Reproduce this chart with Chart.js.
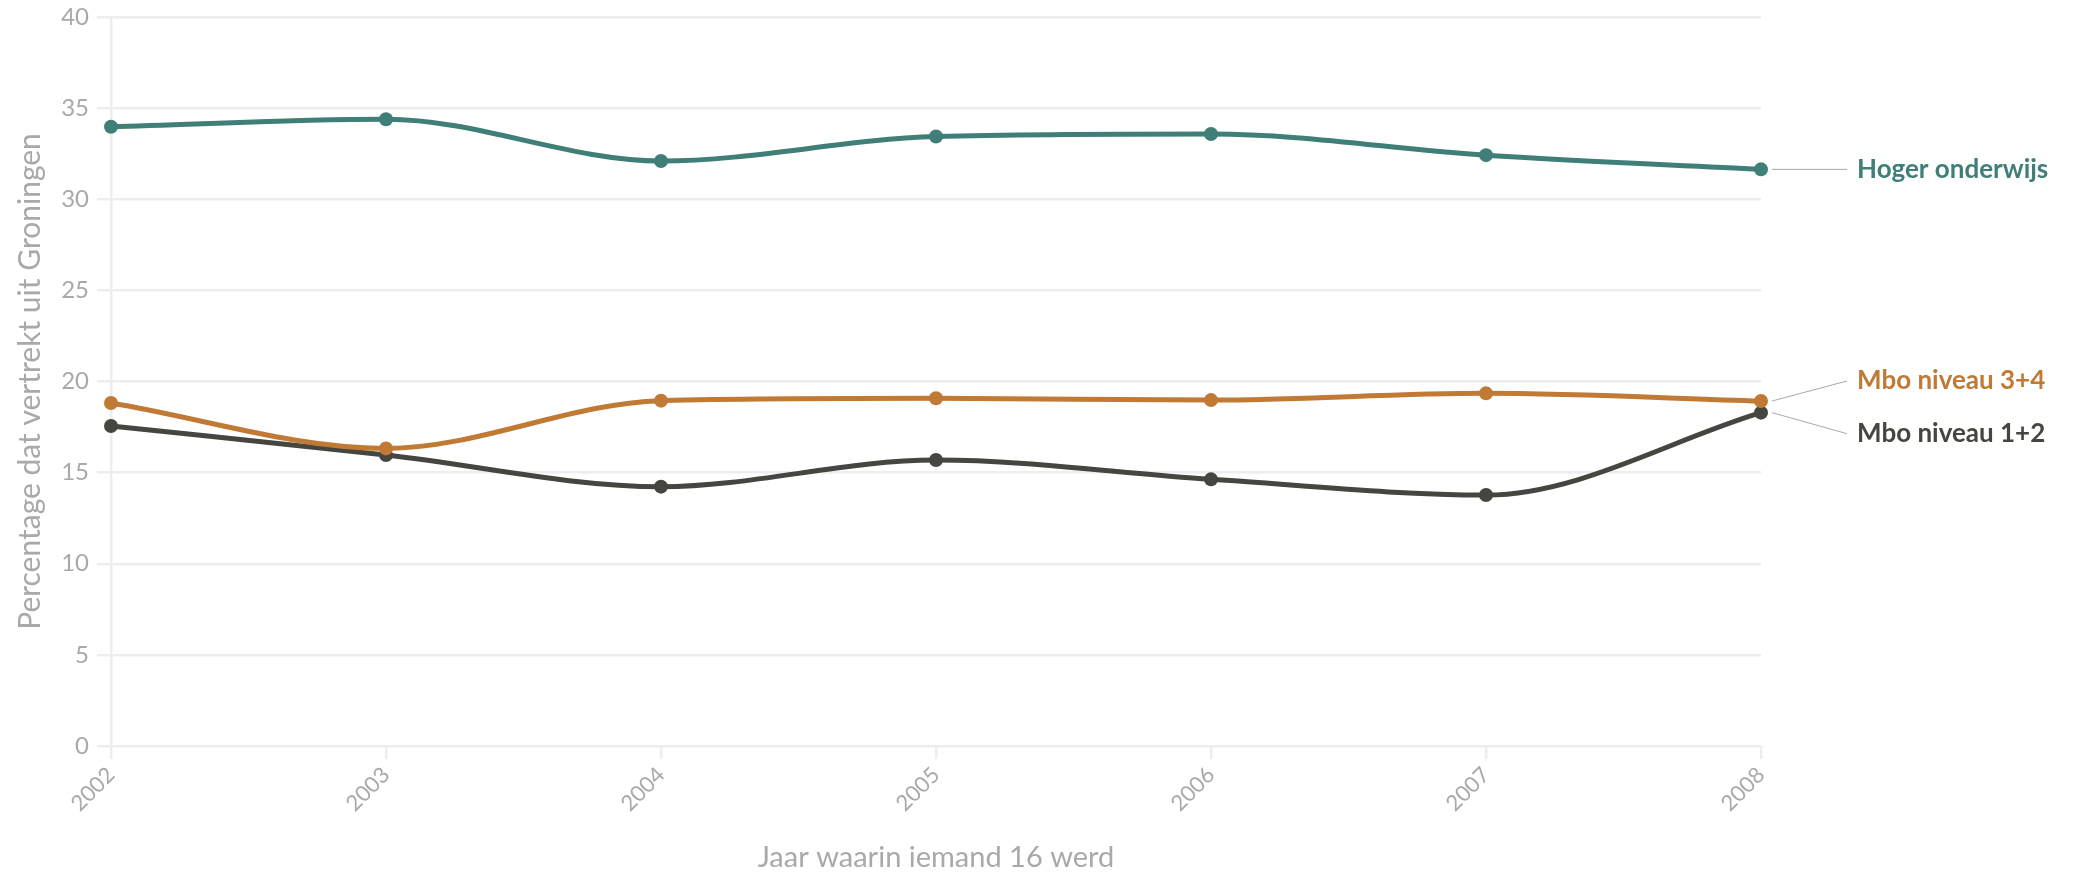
<!DOCTYPE html>
<html>
<head>
<meta charset="utf-8">
<script src="https://cdn.jsdelivr.net/npm/chart.js@4"></script>
<style>
  html, body { margin: 0; padding: 0; background: #fff; }
  #wrap { width: 2080px; height: 877px; position: relative; }
</style>
</head>
<body>
<div id="wrap"><canvas id="vertrekChart"></canvas></div>
<script>
const jaren = ["2002", "2003", "2004", "2005", "2006", "2007", "2008"];
const hogerOnderwijs = [33.98, 34.39, 32.10, 33.44, 33.58, 32.42, 31.64];
const mbo34 = [18.82, 16.33, 18.95, 19.08, 18.98, 19.35, 18.93];
const mbo12 = [17.56, 15.97, 14.23, 15.69, 14.63, 13.77, 18.29];
const yTicks = [0, 5, 10, 15, 20, 25, 30, 35, 40];

const kleuren = {
    hoger: "#3f7f78",
    mbo34: "#c17a35",
    mbo12: "#45463f"
};
const grijs = "#a9a9a9";
const rasterKleur = "#ededed";
const font = "Lato, 'Open Sans', sans-serif";

// Labels at the end of each line, with a thin connector to the last point
const eindLabels = {
    id: "eindLabels",
    afterDatasetsDraw(chart) {
        const ctx = chart.ctx;
        const labels = [
            { idx: 0, text: "Hoger onderwijs", shift: 0 },
            { idx: 1, text: "Mbo niveau 3+4", shift: -20 },
            { idx: 2, text: "Mbo niveau 1+2", shift: 21 }
        ];
        ctx.save();
        labels.forEach((l) => {
            const meta = chart.getDatasetMeta(l.idx);
            const pt = meta.data[meta.data.length - 1];
            const x0 = pt.x + 11;
            const x1 = pt.x + 86;
            const y1 = pt.y + l.shift;
            ctx.strokeStyle = grijs;
            ctx.lineWidth = 1;
            ctx.beginPath();
            ctx.moveTo(x0, pt.y);
            ctx.lineTo(x1, y1);
            ctx.stroke();
            ctx.fillStyle = chart.data.datasets[l.idx].borderColor;
            ctx.font = "bold 26px " + font;
            ctx.textBaseline = "middle";
            ctx.textAlign = "left";
            ctx.fillText(l.text, x1 + 10, y1);
        });
        ctx.restore();
    }
};

const maakLijn = (label, data, kleur) => ({
    label,
    data,
    borderColor: kleur,
    backgroundColor: kleur,
    borderWidth: 5,
    pointRadius: 7,
    pointBorderWidth: 0,
    cubicInterpolationMode: "monotone",
    clip: false
});

new Chart(document.getElementById("vertrekChart"), {
    type: "line",
    data: {
        labels: jaren,
        datasets: [
            maakLijn("Hoger onderwijs", hogerOnderwijs, kleuren.hoger),
            maakLijn("Mbo niveau 3+4", mbo34, kleuren.mbo34),
            maakLijn("Mbo niveau 1+2", mbo12, kleuren.mbo12)
        ]
    },
    options: {
        responsive: true,
        maintainAspectRatio: false,
        animation: false,
        events: [],
        layout: { padding: { left: 0, right: 319, top: 17, bottom: 0 } },
        plugins: {
            legend: { display: false },
            tooltip: { enabled: false }
        },
        scales: {
            x: {
                offset: false,
                afterFit: (scale) => { scale.height = 131; },
                grid: {
                    drawOnChartArea: false,
                    drawTicks: true,
                    tickLength: 13,
                    color: rasterKleur,
                    lineWidth: 2.5
                },
                border: { display: false },
                ticks: {
                    color: grijs,
                    font: { family: font, size: 22 },
                    minRotation: 45,
                    maxRotation: 45,
                    padding: 3
                },
                title: {
                    display: true,
                    text: "Jaar waarin iemand 16 werd",
                    color: grijs,
                    font: { family: font, size: 29 },
                    padding: { top: 0, bottom: 2 }
                }
            },
            y: {
                min: 0,
                max: 40,
                afterFit: (scale) => { scale.width = 111; },
                afterBuildTicks: (scale) => {
                    scale.ticks = yTicks.map((v) => ({ value: v }));
                },
                grid: {
                    color: rasterKleur,
                    lineWidth: 2.5,
                    tickLength: 14
                },
                border: { display: true, color: rasterKleur, width: 2.5 },
                ticks: {
                    color: grijs,
                    font: { family: font, size: 24, lineHeight: 0.6 },
                    padding: 8
                },
                title: {
                    display: true,
                    text: "Percentage dat vertrekt uit Groningen",
                    color: grijs,
                    font: { family: font, size: 30 },
                    padding: { top: 12, bottom: 0 }
                }
            }
        }
    },
    plugins: [eindLabels]
});
</script>
</body>
</html>
